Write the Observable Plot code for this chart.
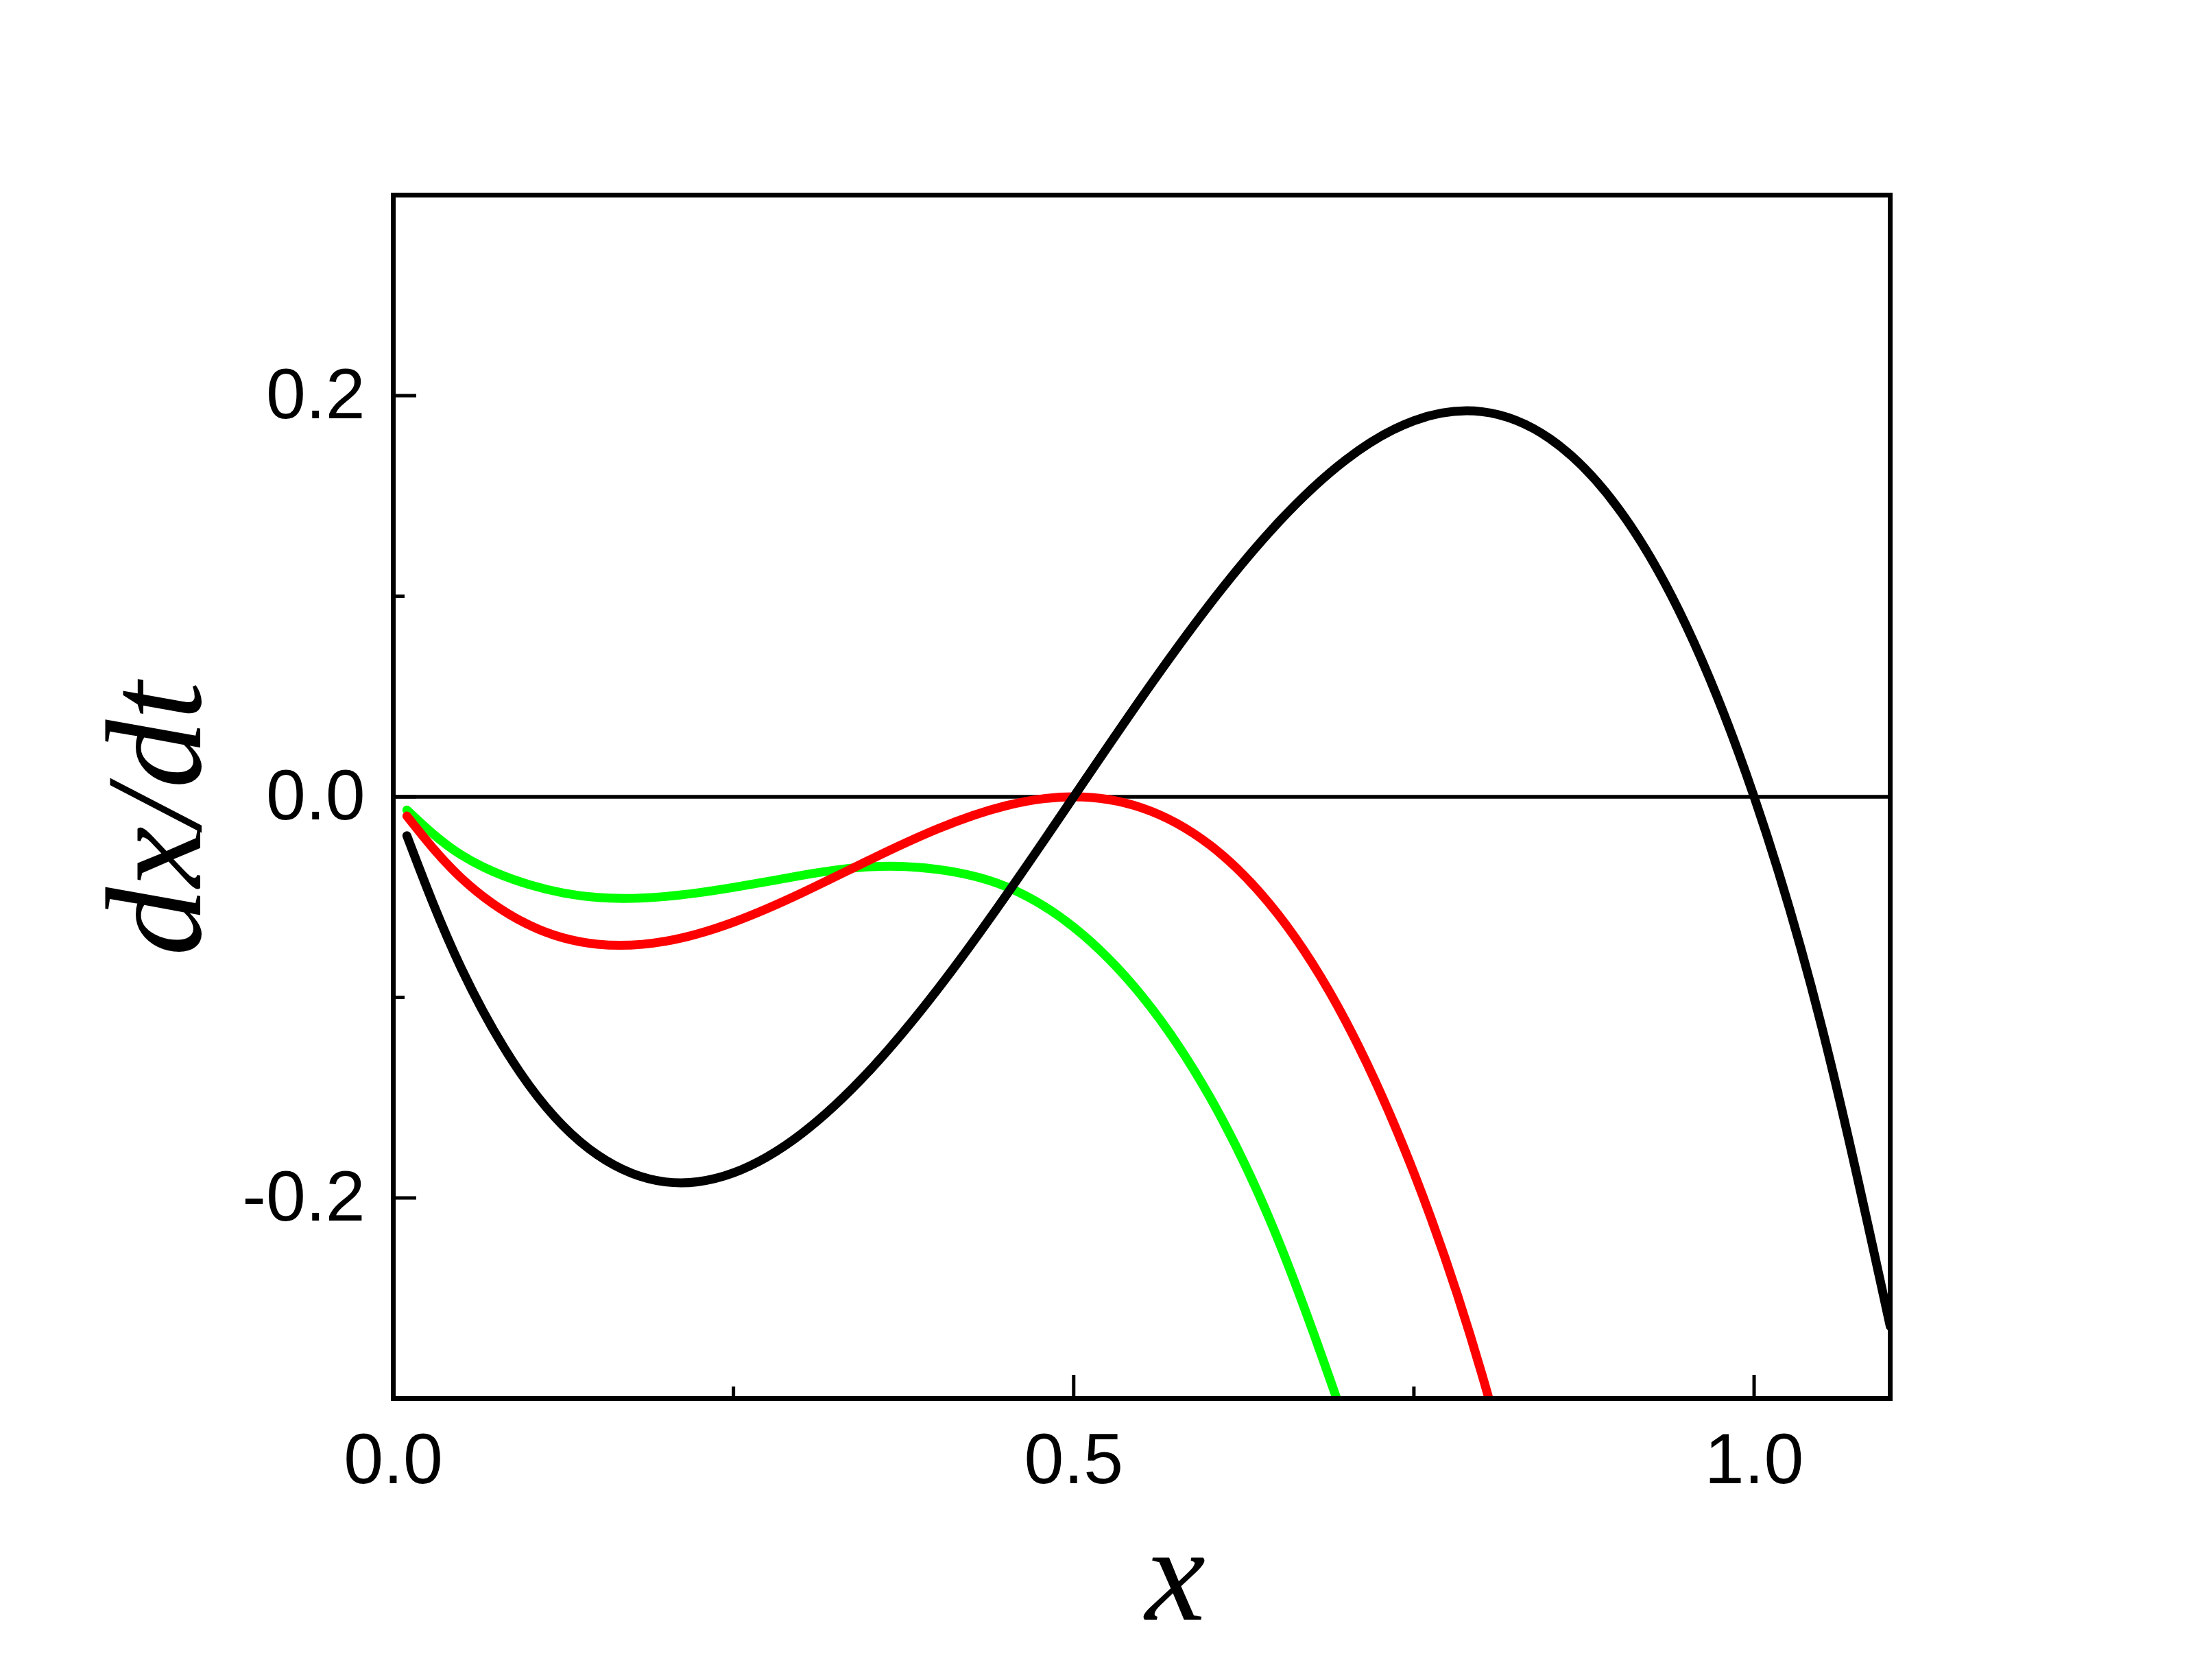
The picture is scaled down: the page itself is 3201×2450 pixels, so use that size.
<!DOCTYPE html>
<html>
<head>
<meta charset="utf-8">
<script src="https://cdn.jsdelivr.net/npm/d3@7"></script>
<script src="https://cdn.jsdelivr.net/npm/@observablehq/plot@0.6"></script>
<style>
  html, body { margin: 0; padding: 0; background: #ffffff; }
  #chart svg { display: block; }
</style>
</head>
<body>
<div id="chart"></div>
<script>
// ---- data ----
const blackX = [0.01, 0.05, 0.1, 0.15, 0.2, 0.25, 0.3, 0.35, 0.4, 0.45, 0.5, 0.55, 0.6, 0.65, 0.7, 0.75, 0.8, 0.85, 0.9, 0.95, 1.0, 1.05, 1.1];
const blackY = [-0.0194, -0.0855, -0.144, -0.1785, -0.192, -0.1875, -0.168, -0.1365, -0.096, -0.0495, 0.0, 0.0495, 0.096, 0.1365, 0.168, 0.1875, 0.192, 0.1785, 0.144, 0.0855, 0.0, -0.1155, -0.264];

const redX = [0.01, 0.05, 0.1, 0.15, 0.2, 0.25, 0.3, 0.35, 0.4, 0.45, 0.5, 0.55, 0.6, 0.65, 0.7, 0.75, 0.8, 0.85];
const redY = [-0.0096, -0.0405, -0.064, -0.0735, -0.072, -0.0625, -0.048, -0.0315, -0.016, -0.0045, 0.0, -0.0055, -0.024, -0.0585, -0.112, -0.1875, -0.288, -0.4165];

const greenX = [0.01, 0.05, 0.1, 0.15, 0.2, 0.25, 0.3, 0.35, 0.4, 0.45, 0.5, 0.55, 0.6, 0.65, 0.7];
const greenY = [-0.0066, -0.029, -0.0438, -0.0502, -0.0497, -0.0452, -0.0392, -0.0349, -0.0362, -0.0447, -0.065, -0.0992, -0.1496, -0.2205, -0.313];

const seriesNames = ["green", "red", "black"];
const seriesColors = ["#00ff00", "#ff0000", "#000000"];

const xMajorTicks = [0, 0.5, 1.0];
const xMinorTicks = [0.25, 0.75];
const xTickLabels = [0, 0.5, 1.0];
const yMajorTicks = [-0.2, 0, 0.2];
const yMinorTicks = [-0.1, 0.1];
const yTickLabels = [-0.2, 0, 0.2];
const xTitle = "x";
const yTitle = "dx/dt";

// ---- build table ----
const seriesData = {
  black: blackX.map((x, i) => ({x, y: blackY[i]})),
  red: redX.map((x, i) => ({x, y: redY[i]})),
  green: greenX.map((x, i) => ({x, y: greenY[i]}))
};

const tickFont = "'Liberation Sans', Arial, Helvetica, sans-serif";
const titleFont = "'Liberation Serif', 'Times New Roman', Times, serif";

const lineMarks = seriesNames.map((name, i) =>
  Plot.line(seriesData[name], {
    x: "x", y: "y",
    stroke: seriesColors[i],
    strokeWidth: 13,
    strokeLinecap: "round",
    strokeLinejoin: "round",
    curve: "natural",
    clip: true
  })
);

const chart = Plot.plot({
  width: 3201,
  height: 2450,
  marginLeft: 573,
  marginRight: 445,
  marginTop: 284,
  marginBottom: 411,
  style: {background: "#ffffff", color: "#000000", overflow: "visible"},
  x: {domain: [0, 1.1]},
  y: {domain: [-0.3, 0.3]},
  marks: [
    Plot.ruleY([0], {stroke: "#000000", strokeWidth: 5.5}),
    ...lineMarks,
    Plot.frame({stroke: "#000000", strokeWidth: 7}),
    // x ticks (inward)
    Plot.axisX(xMajorTicks, {tickSize: -34, fill: "none", strokeWidth: 5, label: null}),
    Plot.axisX(xMinorTicks, {tickSize: -17, fill: "none", strokeWidth: 5, label: null}),
    Plot.axisX(xTickLabels, {tickSize: 0, tickPadding: 50, tickFormat: d => d.toFixed(1), fontSize: 104, fontFamily: tickFont, label: null}),
    // y ticks (inward)
    Plot.axisY(yMajorTicks, {tickSize: -34, fill: "none", strokeWidth: 5, label: null}),
    Plot.axisY(yMinorTicks, {tickSize: -17, fill: "none", strokeWidth: 5, label: null}),
    Plot.axisY(yTickLabels, {tickSize: 0, tickPadding: 41, tickFormat: d => d.toFixed(1), fontSize: 104, fontFamily: tickFont, label: null}),
    // axis titles
    Plot.text([xTitle], {text: d => d, frameAnchor: "bottom", dx: 49, dy: 322, fontSize: 198, fontFamily: titleFont, fontStyle: "italic", fill: "#000000"}),
    Plot.text([yTitle], {text: d => d, frameAnchor: "left", rotate: -90, dx: -346, dy: 232, fontSize: 200, fontFamily: titleFont, fontStyle: "italic", fill: "#000000"})
  ]
});

document.getElementById("chart").appendChild(chart);
</script>
</body>
</html>
